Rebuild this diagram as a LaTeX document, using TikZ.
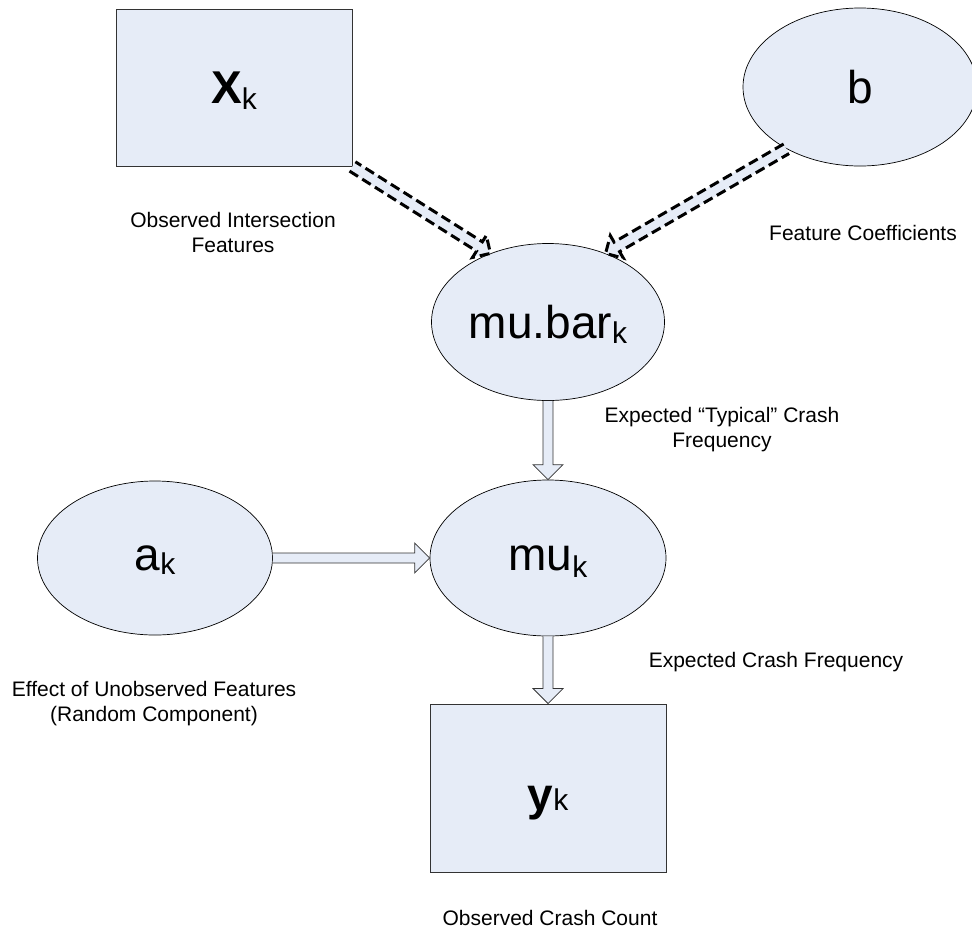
\documentclass[tikz,border=0pt]{standalone}
\usepackage{fontspec}
\setmainfont{Liberation Sans}
\usetikzlibrary{calc,shapes.geometric}

\definecolor{paleblue}{RGB}{230,236,247}

\newcommand\sub[2][6pt]{\smash{\raisebox{-#1}{\fontsize{30}{30}\selectfont #2}}}

\tikzset{
	varnode/.style={ellipse, draw=black, fill=paleblue, line width=.7pt, inner sep=0pt, font=\fontsize{46}{50}\selectfont},
	datanode/.style={rectangle, draw=black!80, fill=paleblue, line width=.9pt, inner sep=0pt, font=\fontsize{46}{50}\selectfont},
	note/.style={align=center, inner sep=0pt, font=\fontsize{21}{25}\selectfont},
	arrowpath/.style n args={3}{to path={let \p1=($(\tikztotarget)-(\tikztostart)$), \n1={atan2(\y1,\x1)}, \n2={veclen(\x1,\y1)} in
		[shift={(\tikztostart)}, rotate=\n1] (0pt,-#1) -- (\n2-#3,-#1) -- (\n2-#3,-#2) -- (\n2,0pt) -- (\n2-#3,#2) -- (\n2-#3,#1) -- (0pt,#1)}},
	blockarrow/.style={draw=black!80, line width=.8pt, fill=paleblue, arrowpath={5pt}{15pt}{15pt}},
	dasharrow/.style={draw=black, line width=3pt, dash pattern=on 10pt off 5pt, fill=paleblue, arrowpath={5.5pt}{13pt}{13pt}}
}

\begin{document}
\begin{tikzpicture}[x=1pt,y=-1pt]
	\useasboundingbox (0,0) rectangle (972,930);
	
	\node[datanode, minimum width=236pt, minimum height=157pt] (xk) at (234,87.5) {\textbf{X}\sub{k}};
	\node[varnode, minimum width=234pt, minimum height=158pt] (b) at (860,87) {b};
	\node[varnode, minimum width=233pt, minimum height=157pt] (mubar) at (548,322) {mu.bar\sub[5pt]{k}};
	\node[varnode, minimum width=236pt, minimum height=156pt] (mu) at (548,558) {mu\sub[7pt]{k}};
	\node[varnode, minimum width=235pt, minimum height=154pt] (ak) at (155,558) {a\sub[4pt]{k}};
	\node[datanode, minimum width=236pt, minimum height=168pt, text height=44pt, text depth=0pt] (yk) at (548,788) {\textbf{y}\sub[0pt]{k}};
	
	\draw[dasharrow] (xk.south east) to (mubar.130);
	\draw[dasharrow] (b.220) to (mubar.50);
	\draw[blockarrow] (mubar.south) to (mu.north);
	\draw[blockarrow] (ak.east) to (mu.west);
	\draw[blockarrow] (mu.south) to (yk.north);
	
	\node[note] (xknote) at (233,232) {Observed Intersection\\Features};
	\node[note] (bnote) at (863,233) {Feature Coefficients};
	\node[note] (mubarnote) at (722,430) {Expected “Typical” Crash\\Frequency};
	\node[note] (munote) at (776,662) {Expected Crash Frequency};
	\node[note] (aknote) at (154,704) {Effect of Unobserved Features\\(Random Component)};
	\node[note] (yknote) at (550,918) {Observed Crash Count};
	
\end{tikzpicture}
\end{document}
